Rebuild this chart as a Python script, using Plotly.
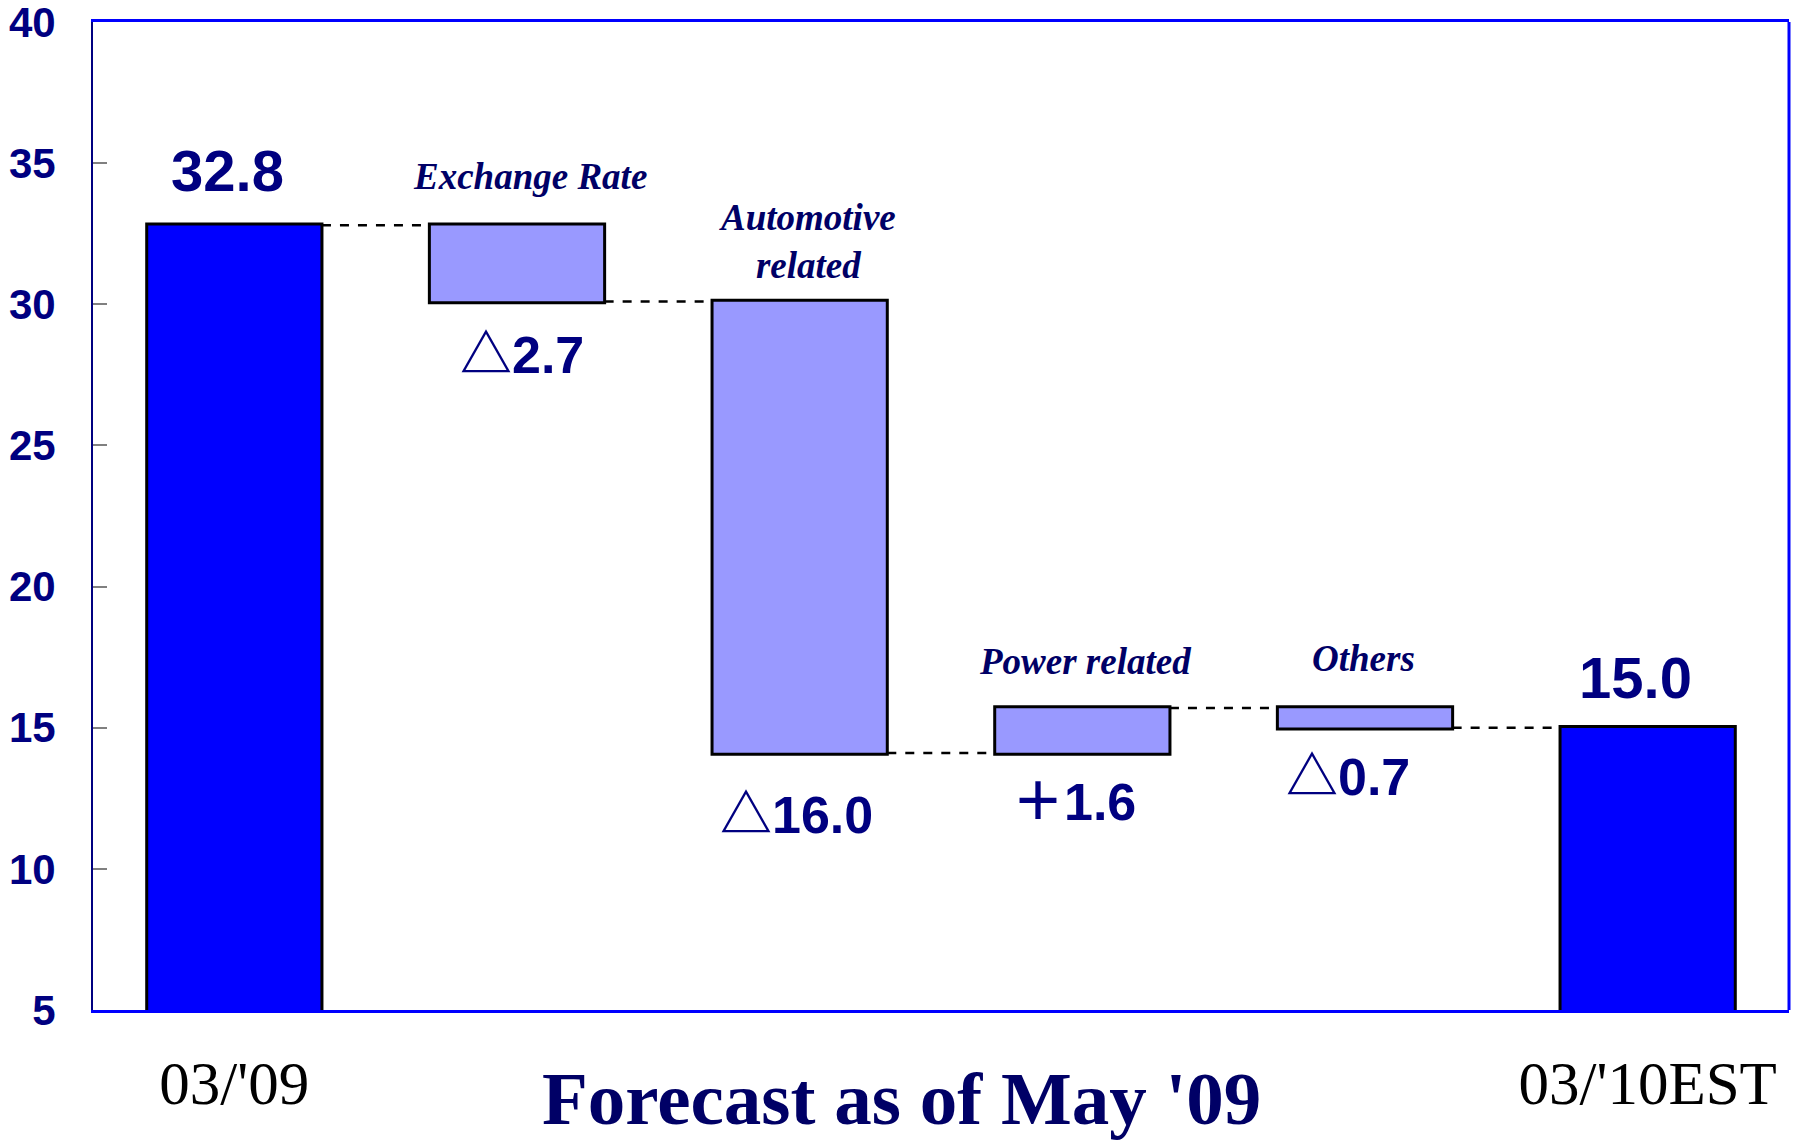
import plotly.graph_objects as go

# ---- data ----
categories = ["03/'09", "Exchange Rate", "Automotive related", "Power related", "Others", "03/'10EST"]
measures = ["absolute", "relative", "relative", "relative", "relative", "total"]
values = [32.8, -2.7, -16.0, 1.6, -0.7, 15.0]
value_labels = ["32.8", "△2.7", "△16.0", "＋1.6", "△0.7", "15.0"]
factor_labels = ["", "Exchange Rate", "Automotive<br>related", "Power related", "Others", ""]
axis_labels = ["03/'09", "03/'10EST"]
y_ticks = [5, 10, 15, 20, 25, 30, 35, 40]
title_text = "Forecast as of May '09"

# ---- style ----
NAVY = "#000080"
DARK = "#000066"
SANS = "Liberation Sans, Arial, Noto Sans CJK JP, sans-serif"
SERIF = "Liberation Serif, Times New Roman, serif"
value_yshift = [55, -54, -62, -49, -49, 50]
value_xshift = [-7, 5, -3, -8, -17, -12]
factor_yshift = [0, 49, 60, 46, 49, 0]
factor_xshift = [0, 13, 8, 3, -2, 0]

bar_line = dict(color="black", width=3)
fig = go.Figure(go.Waterfall(
    x=categories,
    y=values,
    measure=measures,
    width=0.62,
    textinfo="none",
    hoverinfo="x+y",
    totals=dict(marker=dict(color="#0000FF", line=bar_line)),
    increasing=dict(marker=dict(color="#9999FF", line=bar_line)),
    decreasing=dict(marker=dict(color="#9999FF", line=bar_line)),
    connector=dict(mode="between", line=dict(color="black", width=2.5, dash="dash")),
))

# compute bar extents from the data to place labels
running = 0.0
annotations = []
for i, (cat, m, v) in enumerate(zip(categories, measures, values)):
    if m == "absolute":
        start, end = 0.0, v
        running = v
    elif m == "total":
        start, end = 0.0, running
    else:
        start, end = running, running + v
        running = end
    if m in ("absolute", "total"):
        annotations.append(dict(x=cat, y=end, text=value_labels[i], showarrow=False,
                                yanchor="middle", yshift=value_yshift[i], xshift=value_xshift[i],
                                font=dict(family=SANS, size=58, color=NAVY, weight="bold")))
    else:
        annotations.append(dict(x=cat, y=min(start, end), text=value_labels[i], showarrow=False,
                                yanchor="middle", yshift=value_yshift[i], xshift=value_xshift[i],
                                font=dict(family=SANS, size=52, color=NAVY, weight="bold")))
        annotations.append(dict(x=cat, y=max(start, end), text=factor_labels[i], showarrow=False,
                                yanchor="middle", yshift=factor_yshift[i], xshift=factor_xshift[i],
                                font=dict(family=SERIF, size=37, color=DARK, weight="bold", style="italic")))

annotations.append(dict(xref="paper", yref="paper", x=0.477, y=-0.090, text=title_text,
                        showarrow=False, xanchor="center", yanchor="middle",
                        font=dict(family=SERIF, size=75, color=DARK, weight="bold")))

fig.update_layout(
    width=1795, height=1140,
    margin=dict(l=93, r=6, t=22, b=130),
    paper_bgcolor="white", plot_bgcolor="white",
    showlegend=False,
    annotations=annotations,
    shapes=[dict(type="line", xref="paper", yref="paper", x0=1, x1=1, y0=0, y1=1,
                 line=dict(color="#0000FF", width=3))],
    xaxis=dict(
        type="category",
        range=[-0.5, 5.5],
        automargin=False,
        showline=True, linecolor="#0000FF", linewidth=3, mirror=True,
        showgrid=False, zeroline=False, ticks="",
        tickvals=[categories[0], categories[-1]], ticktext=axis_labels,
        tickfont=dict(family=SERIF, size=61, color="black"),
        ticklabelstandoff=18,
    ),
    yaxis=dict(
        range=[5, 40], tickvals=y_ticks,
        automargin=False,
        ticklabeloverflow="allow",
        showline=True, linecolor=NAVY, linewidth=2,
        showgrid=False, zeroline=False,
        ticks="inside", ticklen=14, tickwidth=2, tickcolor="#808080",
        tickfont=dict(family=SANS, size=42, color=NAVY, weight="bold"),
        ticklabelstandoff=27,
    ),
)

fig.write_html("out.html")
